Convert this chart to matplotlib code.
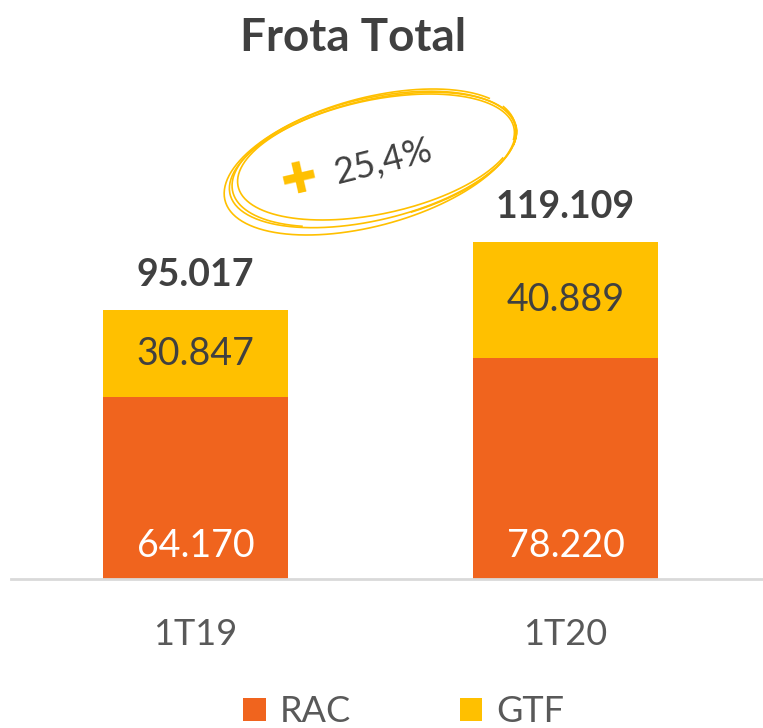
import numpy as np
import matplotlib.pyplot as plt

plt.rcParams['font.family'] = ['Lato', 'DejaVu Sans']

# dados
categorias = ['1T19', '1T20']
rac = [64170, 78220]
gtf = [30847, 40889]
totais = ['95.017', '119.109']
rotulos_rac = ['64.170', '78.220']
rotulos_gtf = ['30.847', '40.889']
variacao = '25,4%'

laranja = '#F0641E'
amarelo = '#FFC000'
cinza = '#404040'

W, H = 763, 728
fig = plt.figure(figsize=(W / 100, H / 100), dpi=100)

# eixo principal (barras)
base_px = 579
topo_px = 100
ax = fig.add_axes([11 / W, (H - base_px) / H, 751 / W, (base_px - topo_px) / H])
escala = 337 / 119109
ax.set_ylim(0, (base_px - topo_px) / escala)
ax.set_xlim(-0.4986, 1.531)

x = np.arange(len(categorias))
b1 = ax.bar(x, rac, width=0.5, color=laranja, label='RAC', zorder=2)
b2 = ax.bar(x, gtf, width=0.5, bottom=rac, color=amarelo, label='GTF', zorder=2)

for i in range(len(x)):
    ax.text(x[i], 33 / escala, rotulos_rac[i], ha='center', va='center',
            color='white', fontsize=27)
    ax.text(x[i], rac[i] + gtf[i] * 0.5, rotulos_gtf[i], ha='center', va='center',
            color=cinza, fontsize=27)
    ax.text(x[i], rac[i] + gtf[i] + 12500, totais[i], ha='center', va='center',
            color=cinza, fontsize=27, fontweight='bold')

for s in ['top', 'right', 'left']:
    ax.spines[s].set_visible(False)
ax.spines['bottom'].set_color('#D9D9D9')
ax.spines['bottom'].set_linewidth(2)
ax.set_yticks([])
ax.set_xticks(x)
ax.set_xticklabels(categorias, fontsize=26, color='#595959')
ax.tick_params(axis='x', length=0, pad=28)

# titulo
fig.text(353 / W, 1 - 38 / H, 'Frota Total', ha='center', va='center',
         fontsize=33, fontweight='bold', color=cinza)

# elipse desenhada a mao
ov = fig.add_axes([0, 0, 1, 1], zorder=5)
ov.set_xlim(0, W)
ov.set_ylim(H, 0)
ov.axis('off')
tracos = [(373, 160, 147, 60, 13.5, 0.0, 2 * np.pi + 0.3),
          (376, 157, 141, 57, 12.0, 0.5, 2 * np.pi + 0.2),
          (370, 162, 150, 64, 15.0, -0.3, 2 * np.pi - 0.5),
          (374, 159, 145, 61, 13.0, 2.2, 2 * np.pi + 1.4)]
for cx, cy, a, b, ang, t0, t1 in tracos:
    tt = np.linspace(t0, t1, 240)
    th = np.deg2rad(-ang)
    ex = a * np.cos(tt)
    ey = b * np.sin(tt)
    px = cx + ex * np.cos(th) - ey * np.sin(th)
    py = cy + ex * np.sin(th) + ey * np.cos(th)
    ov.plot(px, py, color=amarelo, lw=1.2)

ov.text(299, 180, '\u271a', ha='center', va='center', color=amarelo,
        fontsize=31, rotation=13, family='DejaVu Sans')
ov.text(383, 162, variacao, ha='center', va='center', color=cinza,
        fontsize=26, rotation=14)

# legenda
fig.legend(handles=[b1, b2], loc='center', bbox_to_anchor=(404 / W, 1 - 712 / H),
           ncol=2, frameon=False, fontsize=26, handlelength=0.62, handleheight=0.62,
           columnspacing=3.0, handletextpad=0.4, labelcolor='#595959')

fig.savefig('out.png', dpi=100)
